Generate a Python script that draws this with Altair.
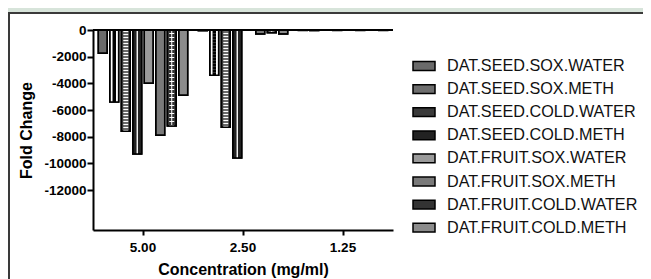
import altair as alt
import pandas as pd

concentrations = ["5.00", "2.50", "1.25"]
series = [
    "DAT.SEED.SOX.WATER",
    "DAT.SEED.SOX.METH",
    "DAT.SEED.COLD.WATER",
    "DAT.SEED.COLD.METH",
    "DAT.FRUIT.SOX.WATER",
    "DAT.FRUIT.SOX.METH",
    "DAT.FRUIT.COLD.WATER",
    "DAT.FRUIT.COLD.METH",
]
values_5_00 = [-1750, -5400, -7600, -9300, -4000, -7900, -7200, -4900]
values_2_50 = [-50, -3400, -7300, -9600, -20, -300, -200, -300]
values_1_25 = [-30, -40, -20, -30, -20, -30, -20, -30]
y_ticks = [-12000, -10000, -8000, -6000, -4000, -2000, 0]

tones = ["#6a6a6a", "#6e6e6e", "#3a3a3a", "#222222", "#9a9a9a", "#7a7a7a", "#333333", "#8c8c8c"]

rows = []
for c, vals in zip(concentrations, [values_5_00, values_2_50, values_1_25]):
    for s, v in zip(series, vals):
        rows.append({"conc": c, "series": s, "value": v})
df = pd.DataFrame(rows)

FONT = "Liberation Sans"

x_enc = alt.X(
    "conc:N",
    sort=concentrations,
    scale=alt.Scale(paddingInner=0, paddingOuter=0),
    axis=alt.Axis(
        title="Concentration (mg/ml)",
        labelAngle=0,
        labelFont=FONT,
        labelFontSize=13.5,
        labelFontWeight="bold",
        labelColor="black",
        labelPadding=5,
        tickColor="black",
        tickWidth=2,
        tickSize=5,
        domainColor="black",
        domainWidth=2,
        titleFont=FONT,
        titleFontSize=16,
        titleFontWeight="bold",
        titleColor="black",
        titlePadding=8,
        zindex=1,
    ),
)
xo_enc = alt.XOffset(
    "series:N", sort=series, scale=alt.Scale(paddingInner=0.22, paddingOuter=0.46)
)
y_enc = alt.Y(
    "value:Q",
    scale=alt.Scale(domain=[-15000, 0], nice=False, zero=False),
    axis=alt.Axis(
        title="Fold Change",
        values=y_ticks,
        tickCount=len(y_ticks) + 2,
        labelExpr="'' + datum.value",
        labelOverlap=False,
        labelFont=FONT,
        labelFontSize=13.5,
        labelFontWeight="bold",
        labelColor="black",
        labelPadding=1,
        tickColor="black",
        tickWidth=2,
        tickSize=6,
        domainColor="black",
        domainWidth=2,
        grid=False,
        titleFont=FONT,
        titleFontSize=16,
        titleFontWeight="bold",
        titleColor="black",
        titlePadding=9,
        zindex=1,
    ),
)

x_plain = alt.X("conc:N", sort=concentrations)
xo_plain = alt.XOffset("series:N", sort=series)

base = alt.Chart(df)

panel = alt.Chart(pd.DataFrame({"a": [0]})).mark_rect(
    fill="white", stroke="#3a3a3a", strokeWidth=2
).encode(x=alt.value(-84), x2=alt.value(580), y=alt.value(-17), y2=alt.value(270))

bars = base.mark_bar(stroke="black", strokeWidth=1.5).encode(
    x=x_enc,
    xOffset=xo_enc,
    y=y_enc,
    fill=alt.Color(
        "series:N",
        sort=series,
        scale=alt.Scale(domain=series, range=tones),
        legend=alt.Legend(
            title=None,
            orient="none",
            legendX=319,
            legendY=24,
            labelFont=FONT,
            labelFontSize=16.2,
            labelColor="#111111",
            labelLimit=400,
            labelOffset=11,
            symbolType="M-1,-0.4H1V0.4H-1Z",
            symbolSize=484,
            symbolStrokeColor="black",
            symbolStrokeWidth=1.5,
            symbolOpacity=1,
            rowPadding=2.1,
        ),
    ),
)


def overlay(name, color, width, dash=None, dash_offset=0, shift=0):
    props = dict(color=color, strokeWidth=width, strokeCap="butt")
    if dash is not None:
        props["strokeDash"] = dash
        props["strokeDashOffset"] = dash_offset
    if shift != 0:
        props["xOffset"] = shift
    return (
        base.transform_filter(alt.datum.series == name)
        .mark_rule(**props)
        .encode(x=x_plain, xOffset=xo_plain, y="value:Q", y2=alt.datum(0))
    )


overlays = [
    # checker
    overlay(series[1], "white", 7),
    overlay(series[1], "black", 3.5, [3, 3], 0, -1.8),
    overlay(series[1], "black", 3.5, [3, 3], 3, 1.8),
    # horizontal stripes
    overlay(series[2], "white", 5, [1.5, 1.5]),
    # vertical lines
    overlay(series[3], "white", 1, None, 0, -1.6),
    overlay(series[3], "white", 1, None, 0, 1.6),
    # plus pattern
    overlay(series[6], "white", 1),
    overlay(series[6], "white", 5, [1, 3]),
]

borders = base.mark_bar(fillOpacity=0, stroke="black", strokeWidth=1.5).encode(
    x=x_plain, xOffset=xo_plain, y="value:Q"
)

zero = alt.Chart(pd.DataFrame({"a": [0]})).mark_rule(color="black", strokeWidth=2).encode(
    y=alt.datum(0)
)

chart = (
    alt.layer(panel, bars, *overlays, borders, zero)
    .properties(
        width=300,
        height=200,
        autosize=alt.AutoSizeParams(type="none"),
        padding={"left": 85, "top": 22, "right": 250, "bottom": 49},
        background="#d7e4da",
    )
    .configure_view(stroke=None)
)

chart.save("out.html", embed_options={"renderer": "svg", "actions": False})
